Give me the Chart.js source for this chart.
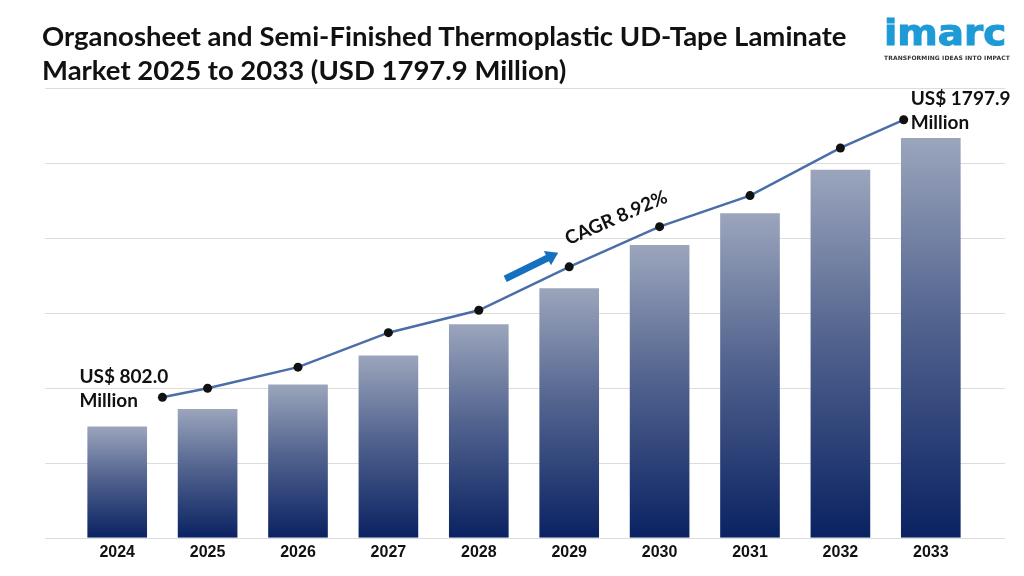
<!DOCTYPE html>
<html>
<head>
<meta charset="utf-8">
<script src="https://cdn.jsdelivr.net/npm/chart.js@4.4.1/dist/chart.umd.min.js"></script>
<style>
  html, body { margin: 0; padding: 0; background: #fff; }
  #wrap { position: relative; width: 1024px; height: 576px; overflow: hidden; }
  #chart { position: absolute; left: 0; top: 0; }
  .title {
    position: absolute; left: 42px; top: 19px;
    font-family: Lato, "Noto Sans", sans-serif; font-weight: bold;
    font-size: 27.5px; line-height: 34px; color: #111; white-space: nowrap;
  }
  .logo { position: absolute; left: 884px; top: 10px; width: 124px; }
  .logo .brand {
    font-family: "DejaVu Sans", sans-serif; font-weight: bold; font-size: 35px;
    line-height: 46px; color: #1e9ad6; letter-spacing: 0;
    -webkit-text-stroke: 1px #1e9ad6;
    transform-origin: left top; transform: scaleX(1.11);
  }
  .logo .tag {
    font-family: "DejaVu Sans", sans-serif; font-weight: bold; font-size: 6px;
    color: #333; letter-spacing: 0.1px; margin-top: -2px; white-space: nowrap;
  }
</style>
</head>
<body>
<div id="wrap">
  <canvas id="chart" width="1024" height="576"></canvas>
  <div class="title">Organosheet and Semi-Finished Thermoplastic UD-Tape Laminate<br>Market 2025 to 2033 (USD 1797.9 Million)</div>
  <div class="logo"><div class="brand">imarc</div><div class="tag">TRANSFORMING IDEAS INTO IMPACT</div></div>
</div>
<script>
// ── Data ───────────────────────────────────────────────────────────
var years = ['2024', '2025', '2026', '2027', '2028', '2029', '2030', '2031', '2032', '2033'];
// bar heights in (hidden) axis units, grid step = 100
var barValues = [148.6, 171.9, 204.4, 243.2, 284.7, 333.0, 390.5, 433.0, 491.0, 533.3];
// trend line: position along the year axis (index) and height
var linePositions = [0.5, 1, 2, 3, 4, 5, 6, 7, 8, 8.7];
var lineValues = [187.4, 199.5, 227.6, 273.6, 303.5, 361.4, 415.0, 456.5, 520.0, 557.6];
var startLabel = ['US$ 802.0', 'Million'];
var endLabel = ['US$ 1797.9', 'Million'];
var cagrText = 'CAGR 8.92%';
var yMax = 600;
var gridStep = 100;

// ── Plugins ────────────────────────────────────────────────────────
// horizontal grid lines that run a bit past the bar area
var wideGrid = {
  id: 'wideGrid',
  beforeDatasetsDraw: function(chart) {
    var y = chart.scales.y;
    var area = chart.chartArea;
    var ctx = chart.ctx;
    ctx.save();
    ctx.strokeStyle = '#dcdcdc';
    ctx.lineWidth = 1;
    for (var v = 0; v <= yMax; v += gridStep) {
      var py = Math.round(y.getPixelForValue(v)) + 0.5;
      ctx.beginPath();
      ctx.moveTo(area.left - 27, py);
      ctx.lineTo(area.right + 29, py);
      ctx.stroke();
    }
    ctx.restore();
  }
};

// value labels at both ends + CAGR arrow
var callouts = {
  id: 'callouts',
  afterDatasetsDraw: function(chart) {
    var pts = chart.getDatasetMeta(1).data;
    var ctx = chart.ctx;
    var first = pts[0], last = pts[pts.length - 1], mid = pts[5];
    ctx.save();
    ctx.fillStyle = '#111';
    ctx.font = 'bold 19px Lato, "Noto Sans", sans-serif';
    ctx.textBaseline = 'middle';
    ctx.textAlign = 'left';
    ctx.fillText(startLabel[0], first.x - 83, first.y - 20);
    ctx.fillText(startLabel[1], first.x - 83, first.y + 4);
    ctx.fillText(endLabel[0], last.x + 7, last.y - 21);
    ctx.fillText(endLabel[1], last.x + 7, last.y + 3);

    // arrow
    var sx = mid.x - 64, sy = mid.y + 12, ex = mid.x - 11, ey = mid.y - 14;
    var ang = Math.atan2(ey - sy, ex - sx);
    var len = Math.hypot(ex - sx, ey - sy);
    ctx.translate(sx, sy);
    ctx.rotate(ang);
    ctx.fillStyle = '#1570c0';
    ctx.beginPath();
    ctx.moveTo(0, -3.5);
    ctx.lineTo(len - 12, -3.5);
    ctx.lineTo(len - 12, -8);
    ctx.lineTo(len, 0);
    ctx.lineTo(len - 12, 8);
    ctx.lineTo(len - 12, 3.5);
    ctx.lineTo(0, 3.5);
    ctx.closePath();
    ctx.fill();
    ctx.setTransform(1, 0, 0, 1, 0, 0);

    // CAGR text
    ctx.translate(mid.x + 47, mid.y - 49);
    ctx.rotate(-23.5 * Math.PI / 180);
    ctx.fillStyle = '#111';
    ctx.font = 'bold 19px Lato, "Noto Sans", sans-serif';
    ctx.textAlign = 'center';
    ctx.fillText(cagrText, 0, 0);
    ctx.restore();
  }
};

// ── Bar gradient (light top → navy bottom, per bar) ────────────────
function barGradient(context) {
  var chart = context.chart;
  if (!chart.chartArea) return '#3a4a7a';
  var y = chart.scales.y;
  var top = y.getPixelForValue(context.raw);
  var bottom = y.getPixelForValue(0);
  var g = chart.ctx.createLinearGradient(0, top, 0, bottom);
  g.addColorStop(0, '#9ba5bc');
  g.addColorStop(0.45, '#53648f');
  g.addColorStop(1, '#0a2262');
  return g;
}

new Chart(document.getElementById('chart').getContext('2d'), {
  data: {
    labels: years,
    datasets: [
      {
        type: 'bar',
        data: barValues,
        backgroundColor: barGradient,
        borderWidth: 0,
        grouped: false,
        barPercentage: 0.66,
        categoryPercentage: 1,
        order: 1
      },
      {
        type: 'line',
        xAxisID: 'xLine',
        data: linePositions.map(function(x, i) { return { x: x, y: lineValues[i] }; }),
        borderColor: '#4a6ea8',
        borderWidth: 2.5,
        pointRadius: 4.5,
        pointBackgroundColor: '#111',
        pointBorderWidth: 0,
        tension: 0,
        fill: false,
        order: 0
      }
    ]
  },
  options: {
    responsive: false,
    animation: false,
    layout: { padding: { left: 72, right: 48, top: 88, bottom: 9 } },
    plugins: {
      legend: { display: false },
      tooltip: { enabled: false }
    },
    scales: {
      x: {
        type: 'category',
        grid: { display: false, drawTicks: false },
        border: { display: false },
        ticks: {
          color: '#111',
          padding: 5,
          font: { family: '"Liberation Sans Narrow", "Arial Narrow", sans-serif', size: 16, weight: 'bold' }
        }
      },
      xLine: { type: 'linear', min: -0.5, max: 9.5, display: false },
      y: { min: 0, max: yMax, display: false, ticks: { stepSize: gridStep } }
    }
  },
  plugins: [wideGrid, callouts]
});
</script>
</body>
</html>
